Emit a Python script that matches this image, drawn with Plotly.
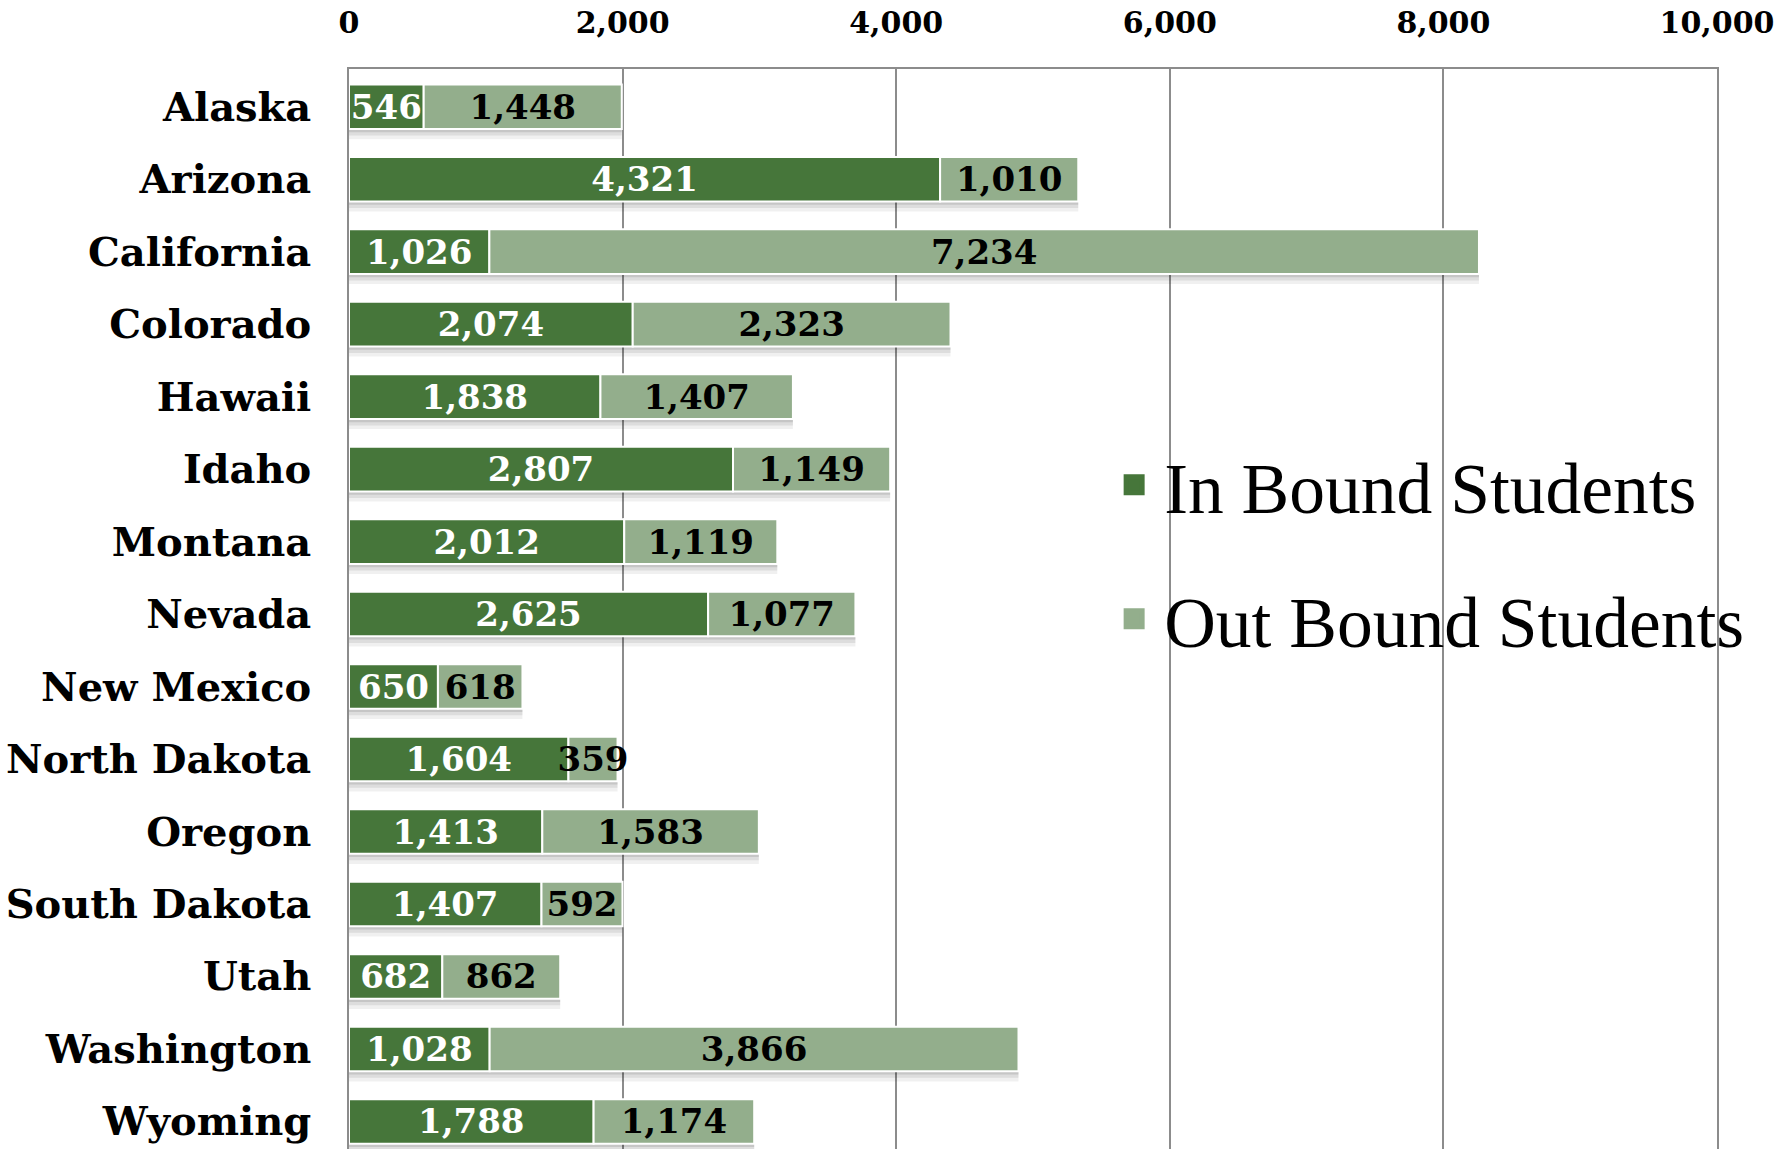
import plotly.graph_objects as go

states = ["Alaska", "Arizona", "California", "Colorado", "Hawaii", "Idaho", "Montana",
          "Nevada", "New Mexico", "North Dakota", "Oregon", "South Dakota", "Utah",
          "Washington", "Wyoming"]
in_bound = [546, 4321, 1026, 2074, 1838, 2807, 2012, 2625, 650, 1604, 1413, 1407, 682, 1028, 1788]
out_bound = [1448, 1010, 7234, 2323, 1407, 1149, 1119, 1077, 618, 359, 1583, 592, 862, 3866, 1174]
x_ticks = [0, 2000, 4000, 6000, 8000, 10000]

DARK = "#46763A"
LIGHT = "#93AE8C"
GRID = "#8C8C8C"
LABEL_FONT = "DejaVu Serif"
LEGEND_FONT = "Liberation Serif"
BAR_W = 0.615

totals = [a + b for a, b in zip(in_bound, out_bound)]

fig = go.Figure()
# soft drop shadow (stacked translucent layers, shifted slightly down)
for shift, op in [(0.045, 0.10), (0.09, 0.08), (0.14, 0.06)]:
    fig.add_trace(go.Bar(
        y=states, x=totals, orientation="h", width=BAR_W, offset=-BAR_W / 2 + shift,
        marker=dict(color=f"rgba(0,0,0,{op})", line=dict(width=0)),
        hoverinfo="skip", showlegend=False,
    ))
fig.add_trace(go.Bar(
    y=states, x=in_bound, orientation="h", name="In Bound Students",
    width=BAR_W, offset=-BAR_W / 2,
    marker=dict(color=DARK, line=dict(color="white", width=2)),
    text=[f"{v:,}" for v in in_bound], texttemplate="%{text}",
    textposition="inside", insidetextanchor="middle",
    constraintext="none", textangle=0,
    insidetextfont=dict(family=LABEL_FONT, size=34, color="white", weight="bold"),
    showlegend=False,
))
fig.add_trace(go.Bar(
    y=states, x=out_bound, base=in_bound, orientation="h", name="Out Bound Students",
    width=BAR_W, offset=-BAR_W / 2,
    marker=dict(color=LIGHT, line=dict(color="white", width=2)),
    text=[f"{v:,}" for v in out_bound], texttemplate="%{text}",
    textposition="inside", insidetextanchor="middle",
    constraintext="none", textangle=0,
    insidetextfont=dict(family=LABEL_FONT, size=34, color="black", weight="bold"),
    showlegend=False,
))
# legend entries
for nm, col in [("In Bound Students", DARK), ("Out Bound Students", LIGHT)]:
    fig.add_trace(go.Scatter(
        x=[None], y=[None], mode="markers", name=nm, legendgroup=nm,
        marker=dict(symbol="square", size=16, color=col, line=dict(color=col, width=5)),
        showlegend=True,
    ))

fig.update_layout(
    width=1792, height=1149,
    barmode="overlay",
    plot_bgcolor="white", paper_bgcolor="white",
    margin=dict(l=349, r=75, t=69, b=0, pad=0, autoexpand=False),
    xaxis=dict(
        side="top", range=[0, 10000], tickvals=x_ticks, tickformat=",d",
        showgrid=True, gridcolor=GRID, gridwidth=1.5,
        showline=True, linecolor=GRID, linewidth=1.5,
        zeroline=False, ticks="", ticklabelstandoff=22, automargin=False,
        tickfont=dict(family=LABEL_FONT, size=30, color="black", weight="bold"),
    ),
    yaxis=dict(
        categoryorder="array", categoryarray=states, range=[14.38, -0.52],
        showgrid=False, showline=True, linecolor=GRID, linewidth=1.5, mirror=True,
        ticks="", ticklabelstandoff=28, automargin=False,
        tickfont=dict(family=LABEL_FONT, size=40, color="black", weight="bold"),
    ),
    showlegend=True,
    legend=dict(
        x=0.552, y=0.664, xanchor="left", yanchor="top", itemwidth=50,
        font=dict(family=LEGEND_FONT, size=71.5, color="black"),
        bgcolor="rgba(0,0,0,0)", tracegroupgap=38, traceorder="grouped",
    ),
)

fig.write_html("out.html")
